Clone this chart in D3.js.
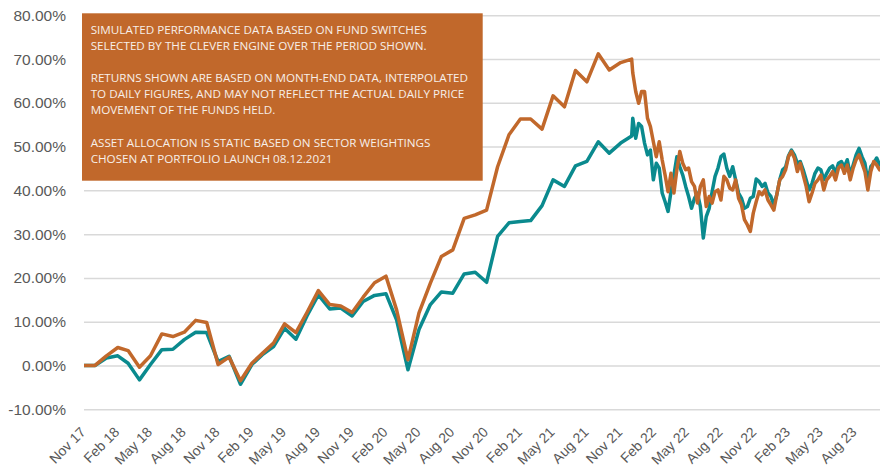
<!DOCTYPE html>
<html>
<head>
<meta charset="utf-8">
<script src="https://cdn.jsdelivr.net/npm/d3@7"></script>
<style>
    html, body { margin: 0; padding: 0; background: #fff; }
    svg { display: block; font-family: "Open Sans", sans-serif; }
</style>
</head>
<body>
<div id="chart"></div>
<script>
// month-end values, first point = end of Oct 2017 (drawn at the Nov 17 tick)
const monthlyStart = new Date(2017, 10, 1);
const orangeMonthly = [0, 0, 2.2, 4.1, 3.4, -0.4, 2.2, 7.2, 6.6, 7.6, 10.3, 9.8, 0.2, 1.9, -3.5,
    0.5, 2.7, 5.1, 9.5, 7.5, 12.1, 17.1, 13.9, 13.6, 12.1, 15.6, 18.9, 20.4, 12.7, 1.3,
    12.0, 18.8, 24.9, 26.4, 33.6, 34.4, 35.5, 45.4, 52.7, 56.3, 56.3, 54.0, 61.6, 59.1,
    67.4, 64.8, 71.2, 67.5, 69.2, 70.0];
const tealMonthly = [0, 0, 1.7, 2.2, 0.5, -3.3, 0.2, 3.6, 3.7, 5.9, 7.6, 7.5, 0.9, 2.1, -4.3,
    0.2, 2.4, 4.3, 8.5, 6.0, 11.3, 16.1, 12.9, 13.1, 11.3, 14.6, 16.0, 16.4, 10.4, -1.0,
    8.2, 13.9, 16.8, 16.5, 20.9, 21.3, 19.0, 29.5, 32.6, 32.9, 33.1, 36.5, 42.4, 40.9,
    45.6, 46.6, 51.1, 48.5, 50.8, 52.4];

// daily-interpolated section after launch, read every ~8 days
const dailyStart = new Date(2021, 11, 4);
const dailyStepDays = 8;
const orangeDaily = [66.8, 62.6, 59.9, 62.6, 62.6, 56.5, 54.6, 51.1, 47.7, 51.1, 47.0, 43.5,
    39.7, 43.9, 39.4, 44.7, 48.9, 46.2, 44.7, 45.1, 42.0, 40.9, 37.1, 40.9, 42.4, 36.3,
    38.6, 37.1, 39.7,
    40.1, 37.8, 43.2, 42.4, 40.5, 40.1, 42.4, 38.2, 36.7, 33.3, 32.1, 30.6, 34.8, 37.4,
    39.7, 39.0, 40.1, 37.8, 36.7, 35.5, 39.0, 42.4, 43.2, 44.7, 47.7, 48.9, 47.4, 44.3,
    46.2, 43.5, 40.9, 37.4, 39.4, 41.6, 42.4, 43.5, 40.1, 42.4, 43.2, 44.3, 42.4, 45.1,
    45.8, 43.9, 45.8, 42.4, 45.1, 47.0, 48.1, 46.2, 44.3, 40.1, 44.3, 46.6, 45.8, 44.7,
    45.1, 41.6];
const tealDaily = [56.5, 51.9, 55.3, 54.6, 50.8, 48.1, 49.2, 42.4, 46.2, 45.1, 39.4, 37.4,
    35.2, 39.7, 43.5, 47.7, 45.4, 43.5, 40.9, 38.6, 35.9, 38.2, 39.4, 36.3, 29.1, 34.0,
    35.9, 39.7,
    43.2, 45.1, 47.7, 48.3, 45.1, 43.2, 45.4, 42.4, 39.4, 38.2, 35.9, 36.3, 38.2, 38.6,
    42.6, 42.0, 40.9, 41.6, 39.4, 38.6, 36.7, 39.0, 42.4, 44.7, 45.3, 47.9, 49.2, 48.1,
    46.2, 46.6, 44.7, 42.4, 40.1, 41.6, 43.9, 45.1, 44.7, 42.4, 43.9, 45.1, 45.6, 43.9,
    46.2, 46.6, 45.3, 47.0, 43.5, 45.8, 48.1, 49.6, 47.7, 46.2, 42.0, 45.4, 46.2, 47.4,
    45.8, 47.0, 44.7];

const yTicks = [-10, 0, 10, 20, 30, 40, 50, 60, 70, 80];
const xTickStart = new Date(2017, 10, 1);
const xTickEnd = new Date(2023, 8, 1);

const noteLines = [
    'SIMULATED PERFORMANCE DATA BASED ON FUND SWITCHES',
    'SELECTED BY THE CLEVER ENGINE OVER THE PERIOD SHOWN.',
    '',
    'RETURNS SHOWN ARE BASED ON MONTH-END DATA, INTERPOLATED',
    'TO DAILY FIGURES, AND MAY NOT REFLECT THE ACTUAL DAILY PRICE',
    'MOVEMENT OF THE FUNDS HELD.',
    '',
    'ASSET ALLOCATION IS STATIC BASED ON SECTOR WEIGHTINGS',
    'CHOSEN AT PORTFOLIO LAUNCH 08.12.2021'
];

const width = 880, height = 474;
const orange = '#C1682B', teal = '#0A8A8E';

function buildSeries(monthly, daily) {
    const pts = monthly.map((v, i) => ({ date: d3.timeMonth.offset(monthlyStart, i), value: v }));
    daily.forEach((v, i) => {
        pts.push({ date: d3.timeDay.offset(dailyStart, i * dailyStepDays), value: v });
    });
    return pts;
}

const svg = d3.select('#chart').append('svg')
    .attr('width', width)
    .attr('height', height);

const x = d3.scaleTime()
    .domain([new Date(2017, 10, 1), new Date(2023, 10, 1)])
    .range([84, 888.8]);

const y = d3.scaleLinear()
    .domain([-10, 80])
    .range([409.2, 15.3]);

// y axis + gridlines
const yAxis = svg.append('g')
    .attr('transform', 'translate(84,0)')
    .call(d3.axisLeft(y)
        .tickValues(yTicks)
        .tickSize(-(width - 84))
        .tickPadding(18)
        .tickFormat(d => d.toFixed(2) + '%'));
yAxis.select('.domain').remove();
yAxis.selectAll('.tick line').attr('stroke', '#D9D9D9').attr('stroke-width', 1.5);
yAxis.selectAll('.tick text')
    .attr('fill', '#595959')
    .style('font-size', '15.5px');

// x axis labels, rotated
const xAxis = svg.append('g')
    .attr('transform', 'translate(0,426)')
    .call(d3.axisBottom(x)
        .tickValues(d3.timeMonth.range(xTickStart, d3.timeMonth.offset(xTickEnd, 1), 3))
        .tickSize(0)
        .tickFormat(d3.timeFormat('%b %y')));
xAxis.select('.domain').remove();
xAxis.selectAll('.tick text')
    .attr('fill', '#595959')
    .style('font-size', '14px')
    .attr('text-anchor', 'end')
    .attr('x', 0)
    .attr('y', 0)
    .attr('dy', '0.71em')
    .attr('transform', 'translate(-5,0) rotate(-45)');

// lines
const line = d3.line()
    .x(d => x(d.date))
    .y(d => y(d.value));

svg.append('path')
    .datum(buildSeries(tealMonthly, tealDaily))
    .attr('fill', 'none')
    .attr('stroke', teal)
    .attr('stroke-width', 3.5)
    .attr('stroke-linejoin', 'round')
    .attr('d', line);

svg.append('path')
    .datum(buildSeries(orangeMonthly, orangeDaily))
    .attr('fill', 'none')
    .attr('stroke', orange)
    .attr('stroke-width', 3.5)
    .attr('stroke-linejoin', 'round')
    .attr('d', line);

// disclaimer box
const note = svg.append('g');
note.append('rect')
    .attr('x', 82)
    .attr('y', 13.3)
    .attr('width', 400.7)
    .attr('height', 167.4)
    .attr('fill', orange);

const noteText = note.append('g')
    .attr('fill', '#F7EFE9')
    .style('font-size', '12px');

noteLines.forEach((t, i) => {
    noteText.append('text')
        .attr('x', 90.7)
        .attr('y', 33.7 + i * 16.15)
        .text(t);
});

// fit the longest line to the box width seen in the original
let longest = 0;
noteText.selectAll('text').each(function() {
    longest = Math.max(longest, this.getComputedTextLength());
});
noteText.style('font-size', (12 * 377.7 / longest) + 'px');
</script>
</body>
</html>
